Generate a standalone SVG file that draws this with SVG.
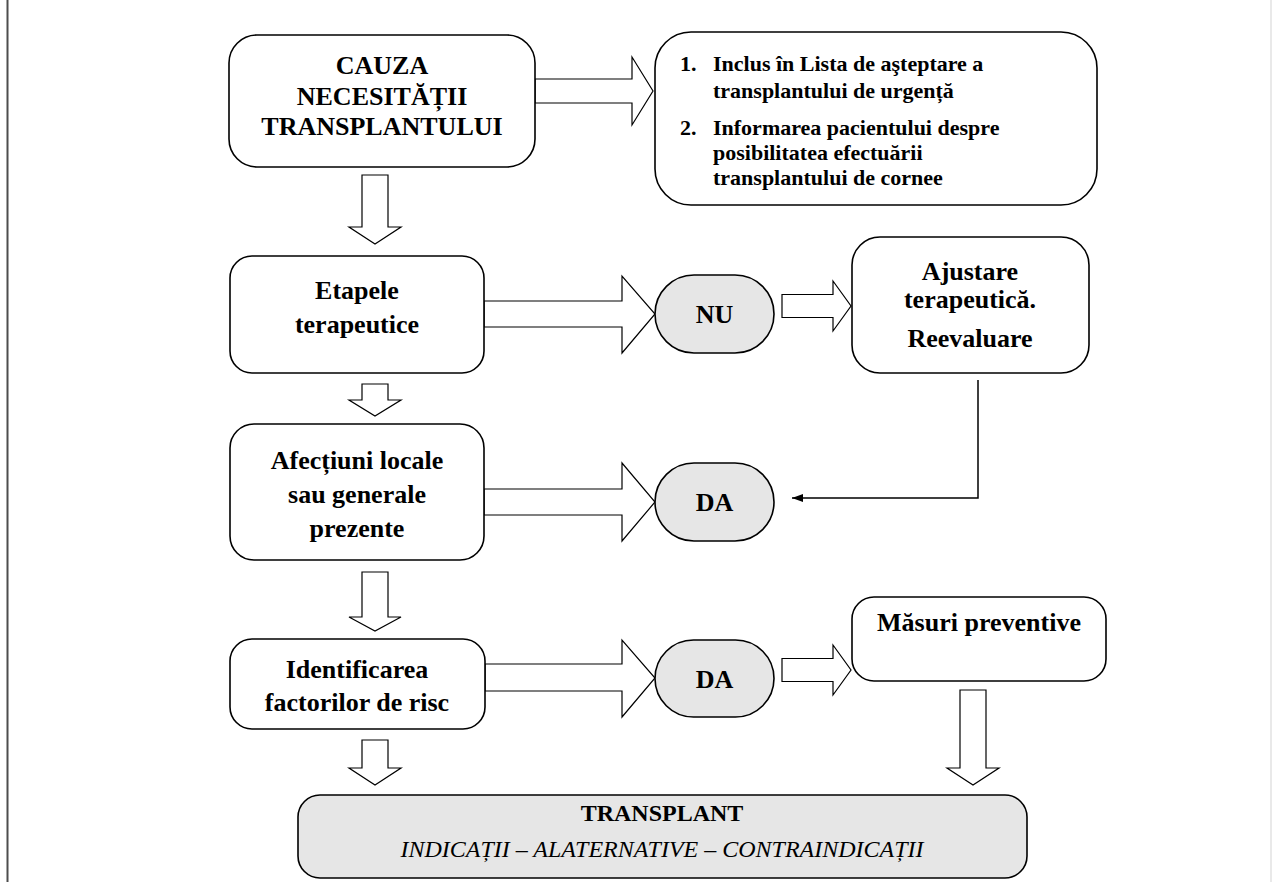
<svg xmlns="http://www.w3.org/2000/svg" width="1272" height="882" viewBox="0 0 1272 882">
<defs>
<style>
.box{fill:#fff;stroke:#000;stroke-width:1.6}
.pill{fill:#e6e6e6;stroke:#000;stroke-width:1.6}
.arr{fill:#fff;stroke:#000;stroke-width:1.2;stroke-linejoin:miter}
.t{font-family:"Liberation Serif","Times New Roman",serif;font-weight:bold;font-size:26px;fill:#000;text-anchor:middle}
.s{font-family:"Liberation Serif","Times New Roman",serif;font-weight:bold;font-size:22px;fill:#000}
.it{font-family:"Liberation Serif","Times New Roman",serif;font-style:italic;font-size:24px;fill:#000;text-anchor:middle}
.ln{fill:none;stroke:#000;stroke-width:1.5}
</style>
<marker id="ah" markerWidth="12" markerHeight="10" refX="11" refY="5" orient="auto" markerUnits="userSpaceOnUse">
<path d="M0,1 L11,5 L0,9 Z" fill="#000"/>
</marker>
</defs>
<rect width="1272" height="882" fill="#fff"/>
<line x1="7.5" y1="0" x2="7.5" y2="882" stroke="#4d4d4d" stroke-width="2"/>
<line x1="1271" y1="0" x2="1271" y2="882" stroke="#e2e2e2" stroke-width="1.5"/>

<g id="connectors">
<polygon class="arr" points="535,79 632,79 632,57 653,91 632,125 632,103 535,103"/>
<polygon class="arr" points="362,175 388,175 388,227 401,227 375,244 349,227 362,227"/>
<polygon class="arr" points="484,301 622,301 622,276 655,314 622,353 622,327 484,327"/>
<polygon class="arr" points="782,294.5 833,294.5 833,281 851,306 833,331 833,317.5 782,317.5"/>
<polygon class="arr" points="362,384 388,384 388,400 401,400 375,416 349,400 362,400"/>
<polygon class="arr" points="484,489 622,489 622,463 655,502 622,541 622,515 484,515"/>
<polyline class="ln" points="978,380 978,498 792,498" marker-end="url(#ah)"/>
<polygon class="arr" points="362,572 388,572 388,617 401,617 375,631 349,617 362,617"/>
<polygon class="arr" points="485,664 622,664 622,640 655,678 622,717 622,691 485,691"/>
<polygon class="arr" points="782,658.5 833,658.5 833,645 851,670 833,695 833,681.5 782,681.5"/>
<polygon class="arr" points="362,740 388,740 388,768 401,768 375,785 349,768 362,768"/>
<polygon class="arr" points="960,690 986,690 986,768 999,768 973,785 947,768 960,768"/>
</g>

<g id="cauza">
<rect class="box" x="229" y="35" width="306" height="132" rx="28"/>
<text class="t" x="382" y="74">CAUZA</text>
<text class="t" x="382" y="105">NECESITĂȚII</text>
<text class="t" x="382" y="135">TRANSPLANTULUI</text>
</g>

<g id="lista">
<rect class="box" x="655" y="32" width="442" height="173" rx="36"/>
<text class="s" x="680" y="71">1.</text>
<text class="s" x="713" y="71">Inclus în Lista de aşteptare a</text>
<text class="s" x="713" y="98">transplantului de urgență</text>
<text class="s" x="680" y="135">2.</text>
<text class="s" x="713" y="135">Informarea pacientului despre</text>
<text class="s" x="713" y="160">posibilitatea efectuării</text>
<text class="s" x="713" y="185">transplantului de cornee</text>
</g>

<g id="etapele">
<rect class="box" x="230" y="256" width="254" height="117" rx="22"/>
<text class="t" x="357" y="299">Etapele</text>
<text class="t" x="357" y="333">terapeutice</text>
</g>

<g id="nu">
<rect class="pill" x="655" y="275" width="119" height="78" rx="39"/>
<text class="t" x="714.5" y="323">NU</text>
</g>

<g id="ajustare">
<rect class="box" x="852" y="237" width="237" height="136" rx="28"/>
<text class="t" x="970" y="280">Ajustare</text>
<text class="t" x="970" y="308">terapeutică.</text>
<text class="t" x="970" y="347">Reevaluare</text>
</g>

<g id="afectiuni">
<rect class="box" x="230" y="424" width="254" height="136" rx="24"/>
<text class="t" x="357" y="469">Afecțiuni locale</text>
<text class="t" x="357" y="503">sau generale</text>
<text class="t" x="357" y="537">prezente</text>
</g>

<g id="da1">
<rect class="pill" x="655" y="463" width="119" height="78" rx="39"/>
<text class="t" x="714.5" y="511">DA</text>
</g>

<g id="identificarea">
<rect class="box" x="230" y="639" width="255" height="90" rx="22"/>
<text class="t" x="357" y="678">Identificarea</text>
<text class="t" x="357" y="711">factorilor de risc</text>
</g>

<g id="da2">
<rect class="pill" x="655" y="640" width="119" height="77" rx="38.5"/>
<text class="t" x="714.5" y="688">DA</text>
</g>

<g id="masuri">
<rect class="box" x="852" y="597" width="254" height="84" rx="22"/>
<text class="t" x="979" y="631">Măsuri preventive</text>
</g>

<g id="transplant">
<rect class="pill" x="298" y="795" width="729" height="83" rx="22"/>
<text class="t" x="662" y="821" style="font-size:24px">TRANSPLANT</text>
<text class="it" x="662" y="857">INDICAȚII – ALATERNATIVE – CONTRAINDICAȚII</text>
</g>
</svg>
